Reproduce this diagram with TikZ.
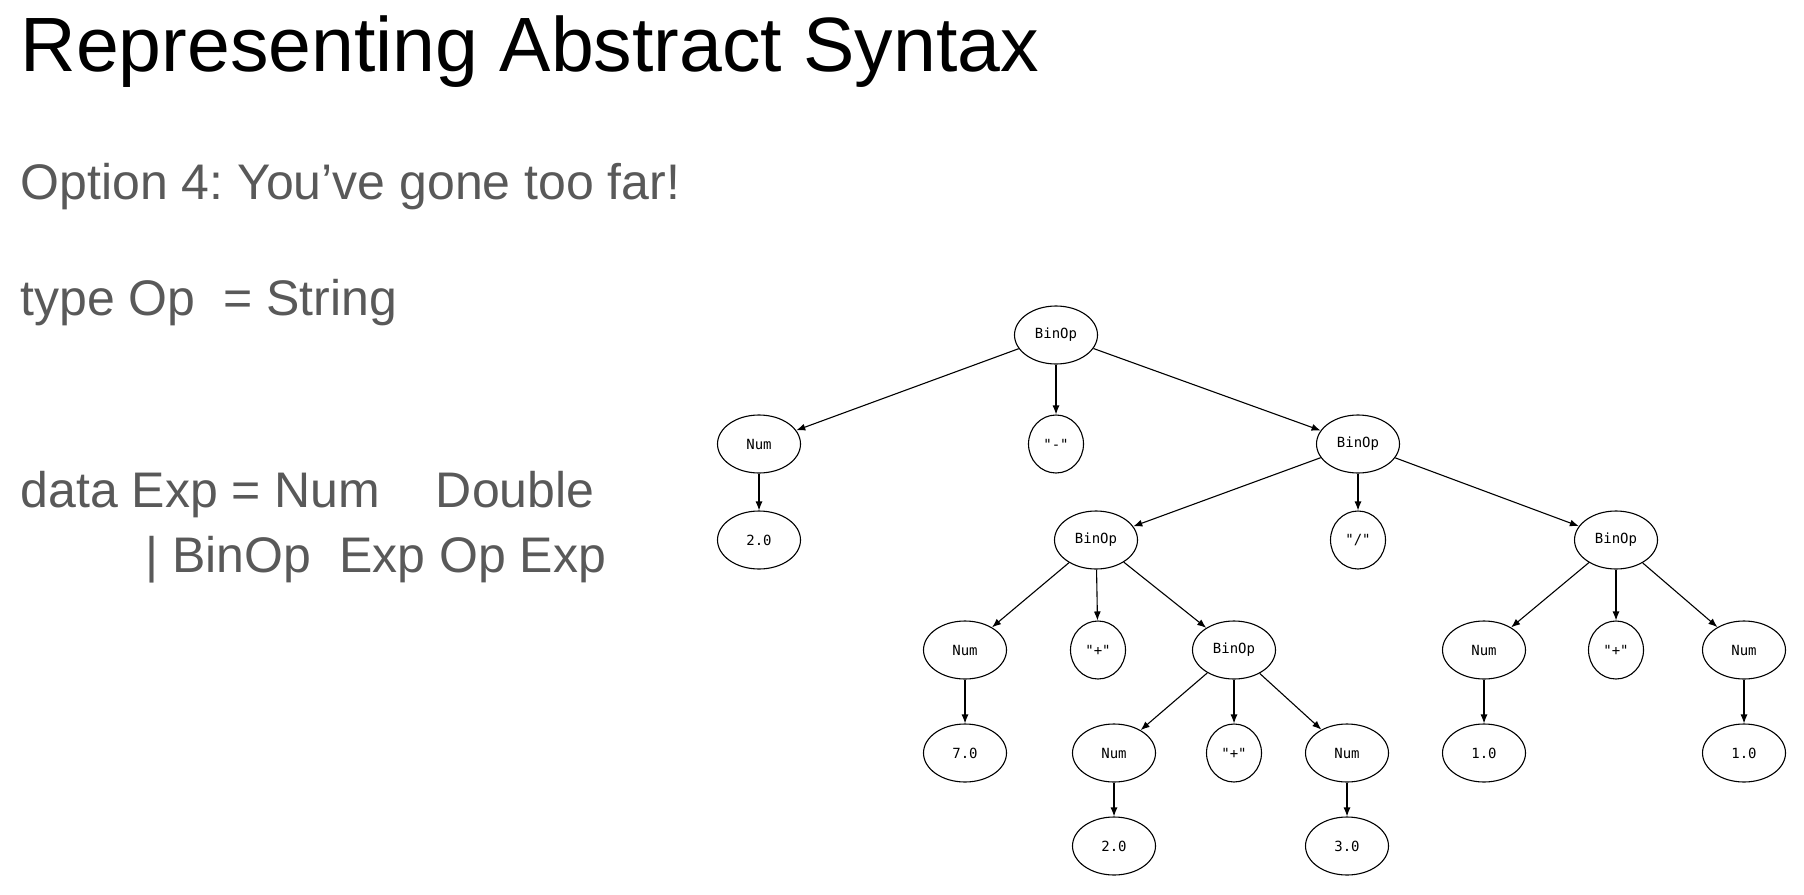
\documentclass[tikz,border=0pt]{standalone}
\usepackage{fontspec}
\setmainfont{Liberation Sans}
\newfontfamily\treefont{DejaVu Sans Mono}
\usetikzlibrary{arrows.meta}
\usetikzlibrary{shapes.geometric}
\definecolor{slidegray}{HTML}{595959}
\frenchspacing

\begin{document}
\begin{tikzpicture}[x=1pt,y=-1pt,>/.tip={Latex[length=9pt,width=7pt]},
	tn/.style={draw,ellipse,minimum width=83pt,minimum height=58pt,inner sep=0pt,font=\treefont\fontsize{14}{14}\selectfont,line width=1.1pt},
	tc/.style={tn,minimum width=55pt},
	line/.style={text=slidegray,anchor=west,font=\fontsize{50}{50}\selectfont}]
\useasboundingbox (0,0) rectangle (1804,894);
\node[anchor=west,font=\fontsize{77}{77}\selectfont] (title) at (17,52) {Representing Abstract Syntax};
\node[line] (opt) at (17,187) {Option 4: You’ve gone too far!};
\node[line] (typ) at (17,303) {type Op\ \ = String};
\node[line] (dat) at (17,495) {data Exp = Num\ \ \ \ Double};
\node[line] (alt) at (142,560) {| BinOp\ \ Exp Op Exp};

\node[tn] (r) at (1056,335) {BinOp};
\node[tn] (n1) at (759,444) {Num};
\node[tc] (minus) at (1056,444) {"-"};
\node[tn] (b2) at (1358,444) {BinOp};
\node[tn] (v1) at (759,540) {2.0};
\node[tn] (b3) at (1096,540) {BinOp};
\node[tc] (div) at (1358,540) {"/"};
\node[tn] (b4) at (1616,540) {BinOp};
\node[tn] (n2) at (965,650) {Num};
\node[tc] (plus1) at (1098,650) {"+"};
\node[tn] (b5) at (1234,650) {BinOp};
\node[tn] (n3) at (1484,650) {Num};
\node[tc] (plus2) at (1616,650) {"+"};
\node[tn] (n4) at (1744,650) {Num};
\node[tn] (v2) at (965,753) {7.0};
\node[tn] (n5) at (1114,753) {Num};
\node[tc] (plus3) at (1234,753) {"+"};
\node[tn] (n6) at (1347,753) {Num};
\node[tn] (v3) at (1484,753) {1.0};
\node[tn] (v4) at (1744,753) {1.0};
\node[tn] (v5) at (1114,846) {2.0};
\node[tn] (v6) at (1347,846) {3.0};

\foreach \a/\b in {r/n1,r/minus,r/b2,n1/v1,b2/b3,b2/div,b2/b4,
	b3/n2,b3/plus1,b3/b5,b4/n3,b4/plus2,b4/n4,n2/v2,b5/n5,b5/plus3,b5/n6,
	n3/v3,n4/v4,n5/v5,n6/v6}
	\draw[->,line width=1.1pt] (\a) -- (\b);
\end{tikzpicture}
\end{document}
